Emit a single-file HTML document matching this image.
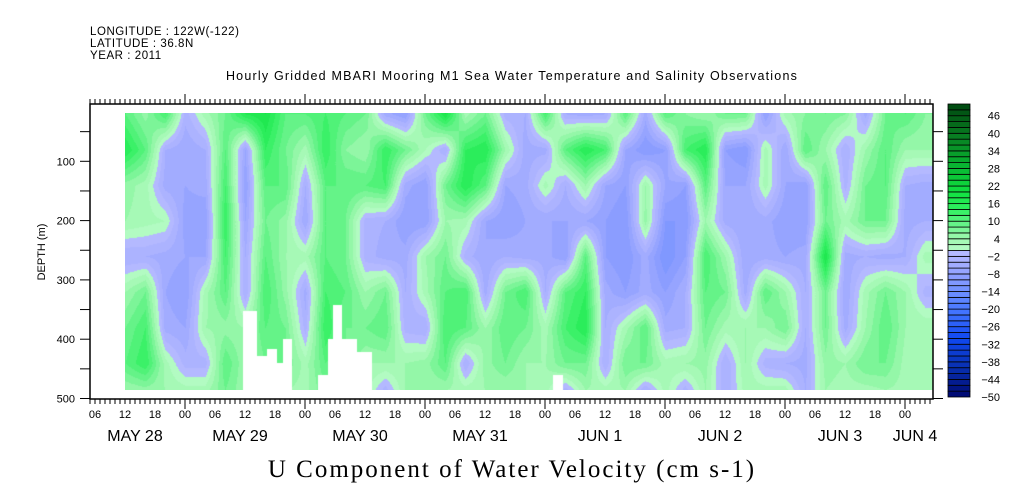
<!DOCTYPE html>
<html><head><meta charset="utf-8"><style>
html,body{margin:0;padding:0;background:#fff;width:1009px;height:504px;overflow:hidden}
#wrap{position:relative;width:1009px;height:504px}
svg{position:absolute;left:0;top:0}
canvas{position:absolute;left:125px;top:113px}
</style></head><body>
<div id="wrap">
<canvas id="hm" width="808" height="277"></canvas>
<svg id="sv" width="1009" height="504" font-family="'Liberation Sans', sans-serif">
<text x="90" y="35" font-size="11.5" letter-spacing="0.55">LONGITUDE : 122W(-122)</text>
<text x="90" y="47" font-size="11.5" letter-spacing="0.55">LATITUDE : 36.8N</text>
<text x="90" y="59" font-size="11.5" letter-spacing="0.55">YEAR : 2011</text>
<text x="512" y="80" font-size="12.5" letter-spacing="1.2" text-anchor="middle">Hourly Gridded MBARI Mooring M1 Sea Water Temperature and Salinity Observations</text>
<text x="512" y="477" font-size="25" text-anchor="middle" font-family="'Liberation Serif', serif" letter-spacing="2">U Component of Water Velocity (cm s-1)</text>
<text transform="translate(45,252) rotate(-90)" font-size="11" text-anchor="middle">DEPTH (m)</text>
<g id="axes"></g>
<g id="cbar"></g>
</svg>
</div>
<script>
// ---- data ----
// time grid: hours since May 28 00:00
const times = [12,16,20,24,28,32,36,40,44,48,52,56,60,64,68,72,76,80,84,88,92,96,100,104,108,112,116,120,124,128,132,136,140,144,148,152,156,160,164,168,172];
const depths = [20,80,140,200,260,320,380,440,485];
const u20  = [10,5,12,-3,3,8,16,18,10,10,12,10,8,-5,-8,8,18,3,8,-3,-4,12,-4,-5,-4,10,-5,10,6,4,8,8,-8,3,6,8,6,-5,8,10,6];
const u80  = [16,10,-4,-6,-4,10,-6,14,8,3,14,6,4,14,8,2,-4,14,16,4,-5,-5,10,16,12,-6,-10,-8,12,16,-8,-10,3,-6,10,4,-4,4,10,4,4];
const u140 = [5,3,-5,-6,-5,12,-8,10,10,-4,10,10,10,12,-5,-8,8,16,10,-6,-5,3,-4,4,-6,-8,4,-6,-8,10,-6,-6,3,-6,-8,10,-3,8,10,-4,-5];
const u200 = [4,3,2,-7,-8,14,-6,8,5,-6,10,8,-3,-4,-8,-8,4,3,-6,-8,-6,-6,-6,-6,-8,-10,5,-10,-10,4,-5,-6,-5,-8,-8,8,3,8,8,-5,-4];
const u260 = [-4,-4,-5,-6,-6,12,-4,10,4,3,10,8,-3,-5,-5,4,8,-3,-6,-4,-5,-5,-8,10,-8,-10,-5,-12,-8,12,4,-6,-5,-6,-5,18,-5,-4,-5,-4,3];
const u320 = [4,8,-6,-8,3,10,-4,12,5,-5,12,10,4,8,-4,3,10,12,-5,8,12,-4,10,14,-5,-8,-5,-8,-4,10,8,-5,10,4,-4,8,-6,3,8,4,-3];
const u380 = [8,12,-5,-6,4,5,4,10,8,-3,14,8,8,10,-3,-4,12,10,4,10,8,3,12,16,-4,3,10,-5,-4,8,3,4,4,8,-4,8,-5,4,10,4,4];
const u440 = [10,14,3,-3,-3,10,4,8,8,3,10,8,4,4,4,5,10,-4,5,8,4,4,8,8,-4,8,8,3,4,5,-4,4,-3,-4,-5,5,4,8,8,3,3];
const u485 = [4,5,4,3,3,8,4,4,4,3,8,4,3,-3,4,4,4,3,4,4,4,3,-3,4,3,4,-4,3,-3,4,-4,3,3,3,-4,4,3,3,4,3,3];
// missing data: [startHour, endHour, depth below which missing]
const gapStart = [35.6,38.4,40.4,42.4,43.6,50.6,52.6,53.6,55.4,58.4,97.6];
const gapEnd   = [38.4,40.4,42.4,43.6,45.4,52.6,53.6,55.4,58.4,61.4,99.6];
const gapDepth = [351,428,415,440,398,460,398,341,398,420,460];
const hourTicks = ['06','12','18','00'];
const dayLabels = ['MAY  28','MAY  29','MAY  30','MAY  31','JUN   1','JUN   2','JUN   3','JUN  4'];
const dayHours = [14,35,59,83,107,131,155,170];
const depthTicks = [100,200,300,400,500];
const cbarLabels = [46,40,34,28,22,16,10,4,-2,-8,-14,-20,-26,-32,-38,-44,-50];
const grid = [u20,u80,u140,u200,u260,u320,u380,u440,u485];

// ---- scales ----
const X0=90,X1=933,Y0=104,Y1=399;
const xOf = h => 65 + 5.0*h;
const yOf = d => 102 + 0.593*d;
const NS='http://www.w3.org/2000/svg';
function mk(tag,attrs,parent){const e=document.createElementNS(NS,tag);for(const k in attrs)e.setAttribute(k,attrs[k]);parent.appendChild(e);return e;}

// ---- colors ----
const posStops=[[0,[184,252,200]],[4,[160,248,176]],[8,[112,244,144]],[14,[48,240,96]],[20,[16,224,64]],[30,[8,176,48]],[40,[8,120,32]],[50,[0,72,16]]];
const negStops=[[0,[184,188,255]],[4,[168,176,255]],[8,[144,160,255]],[14,[112,144,255]],[20,[72,120,255]],[30,[16,72,240]],[40,[8,48,176]],[50,[0,8,112]]];
function colorOf(v){
  const q=Math.floor(v/2)*2+1; const a=Math.abs(q); const st=q>=0?posStops:negStops;
  for(let i=0;i<st.length-1;i++){ if(a<=st[i+1][0]){const t=(a-st[i][0])/(st[i+1][0]-st[i][0]);
    return st[i][1].map((c,j)=>Math.round(c+(st[i+1][1][j]-c)*t));}}
  return st[st.length-1][1];
}
function hex(c){return '#'+c.map(x=>x.toString(16).padStart(2,'0')).join('');}

// ---- heatmap ----
(function(){
  const cv=document.getElementById('hm'),ctx=cv.getContext('2d');
  const W=cv.width,H=cv.height,img=ctx.createImageData(W,H);
  for(let py=0;py<H;py++){
    const d=(py+113-102)/0.593;
    let r=0;while(r<depths.length-2&&d>depths[r+1])r++;
    let ty=(d-depths[r])/(depths[r+1]-depths[r]);ty=Math.max(0,Math.min(1,ty));
    for(let px=0;px<W;px++){
      const h=(px+125-65)/5.0;
      let c=0;while(c<times.length-2&&h>times[c+1])c++;
      let tx=(h-times[c])/(times[c+1]-times[c]);tx=Math.max(0,Math.min(1,tx));
      let gap=false;
      for(let g=0;g<gapStart.length;g++){if(h>=gapStart[g]&&h<gapEnd[g]&&d>=gapDepth[g]){gap=true;break;}}
      const o=(py*W+px)*4;
      if(gap){img.data[o]=255;img.data[o+1]=255;img.data[o+2]=255;img.data[o+3]=255;continue;}
      const v=grid[r][c]*(1-tx)*(1-ty)+grid[r][c+1]*tx*(1-ty)+grid[r+1][c]*(1-tx)*ty+grid[r+1][c+1]*tx*ty;
      const col=colorOf(v);
      img.data[o]=col[0];img.data[o+1]=col[1];img.data[o+2]=col[2];img.data[o+3]=255;
    }
  }
  ctx.putImageData(img,0,0);
})();

// ---- axes ----
(function(){
  const g=document.getElementById('axes');
  const frame=mk('rect',{x:X0,y:Y0,width:X1-X0,height:Y1-Y0,fill:'none',stroke:'#000','stroke-width':1.5},g);
  
  
  for(let h=5;h<=174;h++){
    const x=xOf(h); if(x<X0-0.5||x>X1+0.5)continue;
    const major=(h%24===0);
    mk('line',{x1:x,x2:x,y1:Y0,y2:Y0-(major?10:5),stroke:'#000'},g);
    mk('line',{x1:x,x2:x,y1:Y1,y2:Y1+(major?10:5),stroke:'#000'},g);
    if(h%6===0){
      const t=mk('text',{x:x,y:418,'font-size':11,'text-anchor':'middle'},g);
      t.textContent=hourTicks[(h/6-1)%4];
      
      
    }
  }
  dayLabels.forEach((lab,i)=>{
    const t=mk('text',{x:xOf(dayHours[i]),y:441,'font-size':16,'text-anchor':'middle','xml:space':'preserve'},g);
    t.textContent=lab;
    
    
  });
  for(let d=50;d<=500;d+=50){
    const y=yOf(d);
    mk('line',{x1:X0,x2:X0-10,y1:y,y2:y,stroke:'#000'},g);
    mk('line',{x1:X1,x2:X1+10,y1:y,y2:y,stroke:'#000'},g);
  }
  depthTicks.forEach(d=>{
    const t=mk('text',{x:75,y:yOf(d)+4,'font-size':11,'text-anchor':'end'},g);
    t.textContent=String(d);
    
    
  });
})();

// ---- colorbar ----
(function(){
  const g=document.getElementById('cbar');
  const top=104,bot=397,n=50,bh=(bot-top)/n;
  for(let i=0;i<n;i++){
    const v=-50+2*i;
    const r=mk('rect',{x:948,y:bot-(i+1)*bh,width:22,height:bh,fill:hex(colorOf(v+1)),stroke:'#000','stroke-width':0.8},g);
    
    
  }
  cbarLabels.forEach(v=>{
    const y=bot-(v+50)/100*(bot-top);
    const t=mk('text',{x:1000,y:y+4,'font-size':11,'text-anchor':'end'},g);
    t.textContent=v<0?'\u2212'+Math.abs(v):String(v);
    
    
  });
})();
</script>
</body></html>
